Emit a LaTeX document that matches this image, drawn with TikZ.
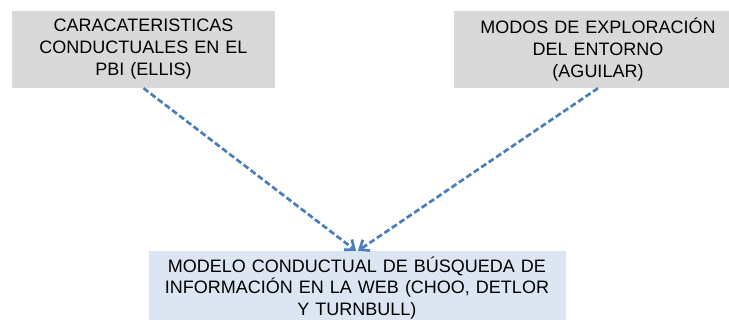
\documentclass[tikz,border=0pt]{standalone}
\usepackage{fontspec}
\setmainfont{Liberation Sans}
\definecolor{boxgrey}{HTML}{D9D9D9}
\definecolor{boxblue}{HTML}{DCE6F2}
\definecolor{arrowblue}{HTML}{4A7EBB}
\usetikzlibrary{arrows.meta, positioning}

\begin{document}
\begin{tikzpicture}[x=1pt, y=-1pt,
		sourcebox/.style={fill=boxgrey, minimum height=77pt, inner sep=0pt, text width=#1, align=center, font=\fontsize{18}{22}\selectfont},
		modelbox/.style={fill=boxblue, minimum height=74pt, inner sep=0pt, text width=417pt, align=center, font=\fontsize{18}{21.5}\selectfont},
		flow/.style={arrowblue, line width=2.7pt, dash pattern=on 6pt off 3pt, -{Straight Barb[length=8pt, width=13pt, line width=2.7pt]}}]
			\useasboundingbox (0,0) rectangle (729,320);
			% Boxes
			\node[sourcebox=263pt] (caract) at (143.5,49.5) {CARACATERISTICAS\\CONDUCTUALES EN EL\\PBI (ELLIS)};
			\node[sourcebox=288pt] (modos) at (598,49.5) {MODOS DE EXPLORACIÓN\\DEL ENTORNO\\(AGUILAR)};
			\node[modelbox] (modelo) at (357,288) {MODELO CONDUCTUAL DE BÚSQUEDA DE\\INFORMACIÓN EN LA WEB (CHOO, DETLOR\\Y TURNBULL)};
			
			% Arrows
			\draw[flow] (caract.south) -- ([xshift=-1pt]modelo.north);
			\draw[flow] (modos.south) -- ([xshift=1pt]modelo.north);
			
		\end{tikzpicture}
\end{document}
